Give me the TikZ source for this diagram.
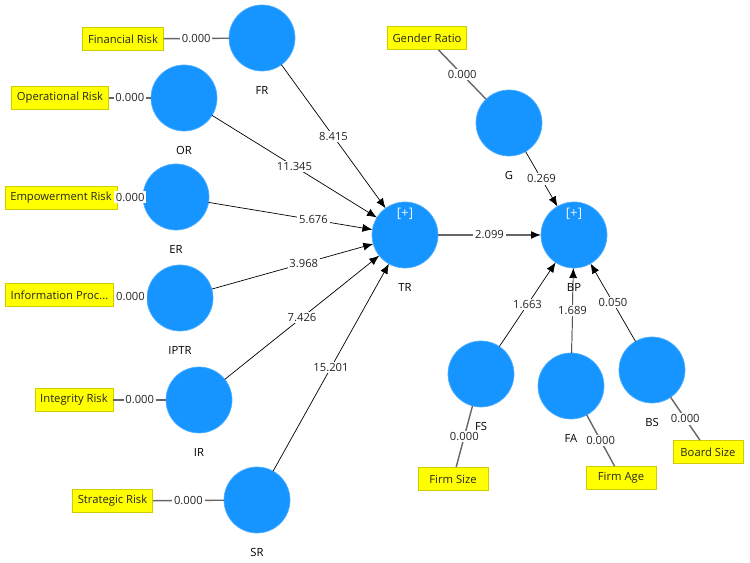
\documentclass[tikz,border=0pt]{standalone}
\usepackage{fontspec}
\setmainfont{Open Sans}
\usetikzlibrary{arrows.meta,positioning}
\definecolor{lvblue}{RGB}{22,148,255}
\definecolor{indyellow}{RGB}{255,255,0}
\definecolor{indborder}{RGB}{205,205,0}

\begin{document}
\begin{tikzpicture}[
  font=\fontsize{6.4}{7.5}\selectfont,
  latent/.style={circle,fill=lvblue,draw=lvblue!75!white,minimum size=1.32cm,
                 inner sep=0pt,outer sep=0pt},
  indicator/.style={rectangle,fill=indyellow,draw=indborder,minimum width=1.4cm,
                    minimum height=.46cm,inner xsep=3pt,text=black!85},
  loading/.style={draw=black!60,line width=.8pt},
  struct/.style={-{Latex[length=2mm,width=1.6mm,black]},black},
  coef/.style={fill=white,inner sep=1pt,text=black!85}]
\useasboundingbox (0,0) rectangle (15,11.26);
% latent variables
\node[latent,label={[label distance=.18cm]below:FR}] (FR) at (5.24,10.50) {};
\node[latent,label={[label distance=.18cm]below:OR}] (OR) at (3.68,9.30) {};
\node[latent,label={[label distance=.18cm]below:ER}] (ER) at (3.52,7.32) {};
\node[latent,label={[label distance=.18cm]below:IPTR}] (IPTR) at (3.60,5.30) {};
\node[latent,label={[label distance=.18cm]below:IR}] (IR) at (3.98,3.26) {};
\node[latent,label={[label distance=.18cm]below:SR}] (SR) at (5.14,1.26) {};
\node[latent,label={[label distance=.18cm]below:TR}] (TR) at (8.10,6.56) {};
\node[latent,label={[label distance=.18cm]below:BP}] (BP) at (11.48,6.56) {};
\node[latent,label={[label distance=.18cm]below:G}] (G) at (10.18,8.80) {};
\node[latent,label={[label distance=.18cm]below:FS}] (FS) at (9.62,3.78) {};
\node[latent,label={[label distance=.18cm]below:FA}] (FA) at (11.42,3.54) {};
\node[latent,label={[label distance=.18cm]below:BS}] (BS) at (13.04,3.86) {};
\node[text=white!90!lvblue,font=\fontsize{7.5}{8}\selectfont,above=.18cm of TR.center] (TRplus) {[+]};
\node[text=white!90!lvblue,font=\fontsize{7.5}{8}\selectfont,above=.18cm of BP.center] (BPplus) {[+]};
% indicators
\node[indicator] (finrisk) at (2.46,10.48) {Financial Risk};
\node[indicator] (oprisk) at (1.20,9.30) {Operational Risk};
\node[indicator] (emprisk) at (1.22,7.30) {Empowerment Risk};
\node[indicator] (inforisk) at (1.19,5.36) {Information Proc...};
\node[indicator] (intrisk) at (1.48,3.26) {Integrity Risk};
\node[indicator] (strrisk) at (2.25,1.24) {Strategic Risk};
\node[indicator] (gender) at (8.54,10.50) {Gender Ratio};
\node[indicator] (firmsize) at (9.06,1.68) {Firm Size};
\node[indicator] (firmage) at (12.42,1.70) {Firm Age};
\node[indicator] (boardsize) at (14.16,2.22) {Board Size};
% outer model
\draw[loading] (finrisk)--node[coef]{0.000}(FR);
\draw[loading] (oprisk)--node[coef]{0.000}(OR);
\draw[loading] (emprisk)--node[coef]{0.000}(ER);
\draw[loading] (inforisk)--node[coef]{0.000}(IPTR);
\draw[loading] (intrisk)--node[coef]{0.000}(IR);
\draw[loading] (strrisk)--node[coef]{0.000}(SR);
\draw[loading] (gender)--node[coef]{0.000}(G);
\draw[loading] (firmsize)--node[coef]{0.000}(FS);
\draw[loading] (firmage)--node[coef]{0.000}(FA);
\draw[loading] (boardsize)--node[coef]{0.000}(BS);
% inner model
\draw[struct] (FR)--node[coef]{8.415}(TR);
\draw[struct] (OR)--node[coef]{11.345}(TR);
\draw[struct] (ER)--node[coef,pos=.64]{5.676}(TR);
\draw[struct] (IPTR)--node[coef,pos=.57]{3.968}(TR);
\draw[struct] (IR)--node[coef]{7.426}(TR);
\draw[struct] (SR)--node[coef]{15.201}(TR);
\draw[struct,draw=black!60,line width=.8pt] (TR)--node[coef]{2.099}(BP);
\draw[struct] (G)--node[coef]{0.269}(BP);
\draw[struct] (FS)--node[coef]{1.663}(BP);
\draw[struct] (FA)--node[coef]{1.689}(BP);
\draw[struct] (BS)--node[coef]{0.050}(BP);
\end{tikzpicture}
\end{document}
